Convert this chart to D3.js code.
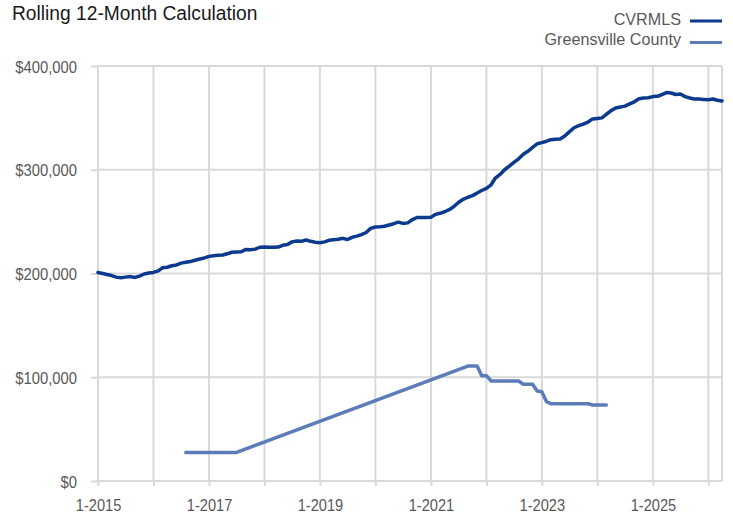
<!DOCTYPE html>
<html>
<head>
<meta charset="utf-8">
<script src="https://cdn.jsdelivr.net/npm/d3@7"></script>
<style>
  body { margin: 0; background: #fff; }
  svg text { font-family: "Liberation Sans", Arial, sans-serif; }
</style>
</head>
<body>
<div id="chart"></div>
<script>
// monthly points, 1-2015 through 4-2026
const startMonth = new Date(2015, 0, 1)
const endMonth = new Date(2026, 3, 1)

const cvrmls = [
    201000, 200000, 199000, 198000, 196500, 196000, 196500, 197000, 196200, 197500, 199500, 200500,
    201000, 202500, 205500, 206000, 207500, 208200, 210000, 210800, 211500, 212800, 214000, 215000,
    216500, 217200, 217500, 217800, 219000, 220500, 220800, 221000, 223200, 222800, 223500, 225300,
    225500, 225200, 225200, 225500, 227200, 228000, 230500, 231300, 231000, 232300, 231000, 230200,
    229700, 230500, 232000, 232500, 233000, 233900, 232800, 234900, 236000, 237500, 239500, 243500,
    244800, 245000, 245500, 246800, 248000, 249500, 248300, 248800, 252000, 254000, 254000, 254000,
    254200, 257000, 258000, 259500, 261500, 264500, 268500, 271500, 273500, 275100, 277500, 280000,
    282000, 285500, 292000, 295500, 300000, 303500, 307000, 310500, 315000, 317800, 321500, 325000,
    326200, 327500, 329000, 329300, 329600, 332500, 336500, 340500, 342500, 344000, 346000, 349000,
    349500, 350000, 353500, 357000, 359500, 360500, 361300, 363500, 365500, 368500, 369200, 369400,
    370500, 370800, 372500, 374400, 374000, 372500, 373000, 370500, 369200, 368200, 368200, 367800,
    367400, 368200, 367000, 366300
]

const greensville = [
    null, null, null, null, null, null, null, null, null, null, null, null,
    null, null, null, null, null, null, null, 27500, 27500, 27500, 27500, 27500,
    27500, 27500, 27500, 27500, 27500, 27500, 27500, null, null, null, null, null,
    null, null, null, null, null, null, null, null, null, null, null, null,
    null, null, null, null, null, null, null, null, null, null, null, null,
    null, null, null, null, null, null, null, null, null, null, null, null,
    null, null, null, null, null, null, null, null, 110800, 110800, 110800, 101500,
    101500, 96400, 96400, 96400, 96400, 96400, 96400, 96400, 93200, 93200, 93200, 86700,
    86100, 76400, 74500, 74500, 74500, 74500, 74500, 74500, 74500, 74500, 74500, 73300,
    73300, 73300, 73300, null, null, null, null, null, null, null, null, null,
    null, null, null, null, null, null, null, null, null, null, null, null,
    null, null, null, null
]

const seriesNames = ["CVRMLS", "Greensville County"]
const seriesColors = ["#0b3a8e", "#5b7cb9"]
const yTicks = [0, 100000, 200000, 300000, 400000]
const tickYears = [2015, 2016, 2017, 2018, 2019, 2020, 2021, 2022, 2023, 2024, 2025, 2026]
const labelYears = [2015, 2017, 2019, 2021, 2023, 2025]
const title = "Rolling 12-Month Calculation"

const months = d3.timeMonth.range(startMonth, d3.timeMonth.offset(endMonth, 1))

let width = 733
let height = 515
let margin = { top: 66, right: 11, bottom: 34, left: 98 }

// squeeze text horizontally, the original uses a narrow face
function narrow(sel, k) {
    sel.each(function () {
        let w = this.getComputedTextLength()
        this.setAttribute("textLength", w * k)
        this.setAttribute("lengthAdjust", "spacingAndGlyphs")
    })
}

let svg = d3.select("#chart")
    .append("svg")
    .attr("width", width)
    .attr("height", height)

let x = d3.scaleTime()
    .domain([startMonth, endMonth])
    .range([margin.left, width - margin.right])

let y = d3.scaleLinear()
    .domain([0, 400000])
    .range([height - margin.bottom, margin.top])

const gridColor = "#d9d9d9"
const textColor = "#595959"

// horizontal grid
svg.append("g")
    .selectAll("line")
    .data(yTicks)
    .join("line")
    .attr("x1", margin.left)
    .attr("x2", width - margin.right)
    .attr("y1", d => y(d))
    .attr("y2", d => y(d))
    .attr("stroke", gridColor)
    .attr("stroke-width", 2)

// vertical grid, one per January plus the right edge
svg.append("g")
    .selectAll("line")
    .data(tickYears.map(yr => new Date(yr, 0, 1)).concat([endMonth]))
    .join("line")
    .attr("x1", d => x(d))
    .attr("x2", d => x(d))
    .attr("y1", y(400000))
    .attr("y2", y(0))
    .attr("stroke", gridColor)
    .attr("stroke-width", 2)

// Y axis
let yAxis = svg.append("g")
    .attr("transform", "translate(" + margin.left + ",0)")
    .call(d3.axisLeft(y)
        .tickValues(yTicks)
        .tickSize(7)
        .tickPadding(14)
        .tickFormat(d => "$" + d3.format(",")(d)))
yAxis.select(".domain").remove()
yAxis.selectAll(".tick line").attr("stroke", gridColor).attr("stroke-width", 2)
yAxis.selectAll("text")
    .attr("fill", textColor)
    .style("font-size", "17px")
    .attr("dy", "0.36em")
    .call(narrow, 0.87)

// X axis
let xAxis = svg.append("g")
    .attr("transform", "translate(0," + y(0) + ")")
    .call(d3.axisBottom(x)
        .tickValues(tickYears.map(yr => new Date(yr, 0, 1)))
        .tickSize(5)
        .tickPadding(13)
        .tickFormat(d => labelYears.includes(d.getFullYear()) ? "1-" + d.getFullYear() : ""))
xAxis.select(".domain").remove()
xAxis.selectAll(".tick line").attr("stroke", gridColor).attr("stroke-width", 2)
xAxis.selectAll("text")
    .attr("fill", textColor)
    .style("font-size", "17px")
    .filter(function () { return this.textContent !== "" })
    .call(narrow, 0.86)

// lines
const line = d3.line()
    .x(d => x(d.date))
    .y(d => y(d.value))

const seriesData = [cvrmls, greensville].map(vals =>
    vals.map((v, i) => ({ date: months[i], value: v })).filter(d => d.value !== null))

svg.append("g")
    .selectAll("path")
    .data(seriesData)
    .join("path")
    .attr("fill", "none")
    .attr("stroke", (d, i) => seriesColors[i])
    .attr("stroke-width", 3.5)
    .attr("stroke-linejoin", "round")
    .attr("stroke-linecap", "round")
    .attr("d", d => line(d))

// title
svg.append("text")
    .attr("x", 12)
    .attr("y", 20)
    .attr("fill", "#1a1a1a")
    .style("font-size", "20px")
    .text(title)
    .call(narrow, 0.96)

// legend
let legend = svg.append("g")
    .selectAll("g")
    .data(seriesNames)
    .join("g")
    .attr("transform", (d, i) => "translate(0," + (25 + i * 20) + ")")

legend.append("text")
    .attr("x", 681)
    .attr("text-anchor", "end")
    .attr("fill", textColor)
    .style("font-size", "17px")
    .text(d => d)
    .call(narrow, 0.95)

legend.append("line")
    .attr("x1", 690)
    .attr("x2", 722)
    .attr("y1", (d, i) => -4 + i * 1.5)
    .attr("y2", (d, i) => -4 + i * 1.5)
    .attr("stroke", (d, i) => seriesColors[i])
    .attr("stroke-width", 3)
</script>
</body>
</html>
